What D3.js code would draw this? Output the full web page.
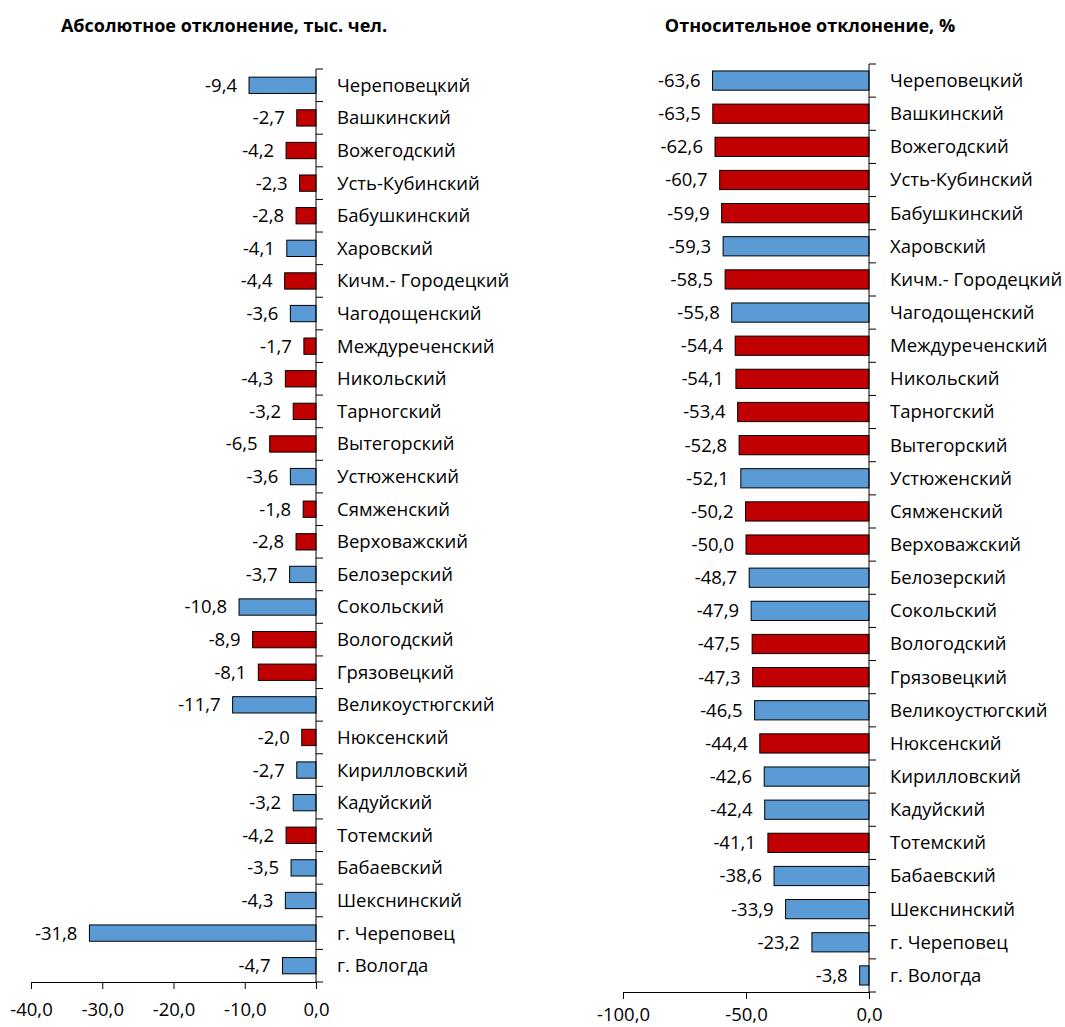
<!DOCTYPE html>
<html>
<head>
<meta charset="utf-8">
<script src="https://cdn.jsdelivr.net/npm/d3@7"></script>
<style>
  body { margin: 0; background: #fff; }
  svg text { font-family: "Open Sans", "Noto Sans", sans-serif; fill: #000; }
</style>
</head>
<body>
<svg id="chart" width="1065" height="1027"></svg>
<script>
// districts, top to bottom
let districts = [
    "Череповецкий", "Вашкинский", "Вожегодский", "Усть-Кубинский", "Бабушкинский",
    "Харовский", "Кичм.- Городецкий", "Чагодощенский", "Междуреченский", "Никольский",
    "Тарногский", "Вытегорский", "Устюженский", "Сямженский", "Верховажский",
    "Белозерский", "Сокольский", "Вологодский", "Грязовецкий", "Великоустюгский",
    "Нюксенский", "Кирилловский", "Кадуйский", "Тотемский", "Бабаевский",
    "Шекснинский", "г. Череповец", "г. Вологда"
]
// absolute deviation, thousand people
let absDev = [
    -9.4, -2.7, -4.2, -2.3, -2.8, -4.1, -4.4, -3.6, -1.7, -4.3,
    -3.2, -6.5, -3.6, -1.8, -2.8, -3.7, -10.8, -8.9, -8.1, -11.7,
    -2.0, -2.7, -3.2, -4.2, -3.5, -4.3, -31.8, -4.7
]
// relative deviation, %
let relDev = [
    -63.6, -63.5, -62.6, -60.7, -59.9, -59.3, -58.5, -55.8, -54.4, -54.1,
    -53.4, -52.8, -52.1, -50.2, -50.0, -48.7, -47.9, -47.5, -47.3, -46.5,
    -44.4, -42.6, -42.4, -41.1, -38.6, -33.9, -23.2, -3.8
]
// districts drawn in red
let highlighted = [
    0, 1, 1, 1, 1, 0, 1, 0, 1, 1,
    1, 1, 0, 1, 1, 0, 0, 1, 1, 0,
    1, 0, 0, 1, 0, 0, 0, 0
]
let absTicks = [-40, -30, -20, -10, 0]
let relTicks = [-100, -50, 0]

let fmt = function(v) { return d3.format(".1f")(v).replace(".", ",").replace("\u2212", "-") }
let colorOf = d3.scaleOrdinal().domain([0, 1]).range(["#5B9BD5", "#C00000"])

let svg = d3.select("#chart")
let fontSize = "18.5px"

function drawPanel(opts) {
    let x = d3.scaleLinear().domain(opts.domain).range([opts.left, opts.right])
    let y = d3.scaleBand().domain(districts).range([opts.top, opts.bottom]).paddingInner(opts.pad).paddingOuter(opts.pad / 2)
    let g = svg.append("g")

    let rows = districts.map(function(d, i) { return { name: d, v: opts.values[i], hl: highlighted[i] } })

    // bars
    g.selectAll("rect")
        .data(rows)
        .enter()
        .append("rect")
        .attr("x", function(d) { return x(d.v) })
        .attr("y", function(d) { return y(d.name) })
        .attr("width", function(d) { return x(0) - x(d.v) })
        .attr("height", y.bandwidth())
        .attr("fill", function(d) { return colorOf(d.hl) })
        .attr("stroke", "#000")
        .attr("stroke-width", 1)

    // value labels
    g.selectAll(".val")
        .data(rows)
        .enter()
        .append("text")
        .attr("class", "val")
        .attr("x", function(d) { return x(d.v) - opts.valGap })
        .attr("y", function(d) { return y(d.name) + y.bandwidth() / 2 })
        .attr("dy", "0.35em")
        .attr("text-anchor", "end")
        .style("font-size", fontSize)
        .text(function(d) { return fmt(d.v) })

    // category axis at zero: line + ticks at band boundaries, labels to the right
    let x0 = x(0)
    g.append("line")
        .attr("x1", x0).attr("x2", x0)
        .attr("y1", opts.top).attr("y2", opts.bottom)
        .attr("stroke", "#000")
    let step = y.step()
    let bounds = d3.range(districts.length + 1).map(function(i) { return opts.top + i * step })
    g.selectAll(".cat-tick")
        .data(bounds)
        .enter()
        .append("line")
        .attr("class", "cat-tick")
        .attr("x1", x0).attr("x2", x0 + 7)
        .attr("y1", function(d) { return d }).attr("y2", function(d) { return d })
        .attr("stroke", "#000")
    g.selectAll(".cat")
        .data(rows)
        .enter()
        .append("text")
        .attr("class", "cat")
        .attr("x", x0 + opts.catGap)
        .attr("y", function(d) { return y(d.name) + y.bandwidth() / 2 })
        .attr("dy", "0.35em")
        .style("font-size", fontSize)
        .text(function(d) { return d.name })

    // value axis
    let xAxis = d3.axisBottom(x).tickValues(opts.ticks).tickSize(7).tickSizeOuter(0).tickFormat(fmt)
    let ax = g.append("g")
        .attr("transform", `translate(0, ${opts.bottom})`)
        .call(xAxis)
    ax.select(".domain").attr("stroke", "#000")
    ax.selectAll(".tick line").attr("stroke", "#000")
    ax.selectAll(".tick text")
        .attr("dy", opts.tickDy)
        .style("font-size", fontSize)
        .style("font-family", "'Open Sans', 'Noto Sans', sans-serif")
        .attr("fill", "#000")

    // title
    svg.append("text")
        .attr("x", opts.titleX)
        .attr("y", 26)
        .attr("dy", "0.35em")
        .attr("text-anchor", "middle")
        .style("font-size", "18px")
        .style("font-weight", "bold")
        .text(opts.title)
}

drawPanel({
    title: "Абсолютное отклонение, тыс. чел.",
    titleX: 224,
    values: absDev,
    domain: [-40, 0],
    ticks: absTicks,
    left: 31, right: 316,
    top: 69, bottom: 982,
    pad: 0.5,
    valGap: 12,
    catGap: 21,
    tickDy: "1.3em"
})

drawPanel({
    title: "Относительное отклонение, %",
    titleX: 810,
    values: relDev,
    domain: [-100, 0],
    ticks: relTicks,
    left: 623, right: 869,
    top: 64, bottom: 992,
    pad: 0.42,
    valGap: 12,
    catGap: 21,
    tickDy: "1.05em"
})
</script>
</body>
</html>
